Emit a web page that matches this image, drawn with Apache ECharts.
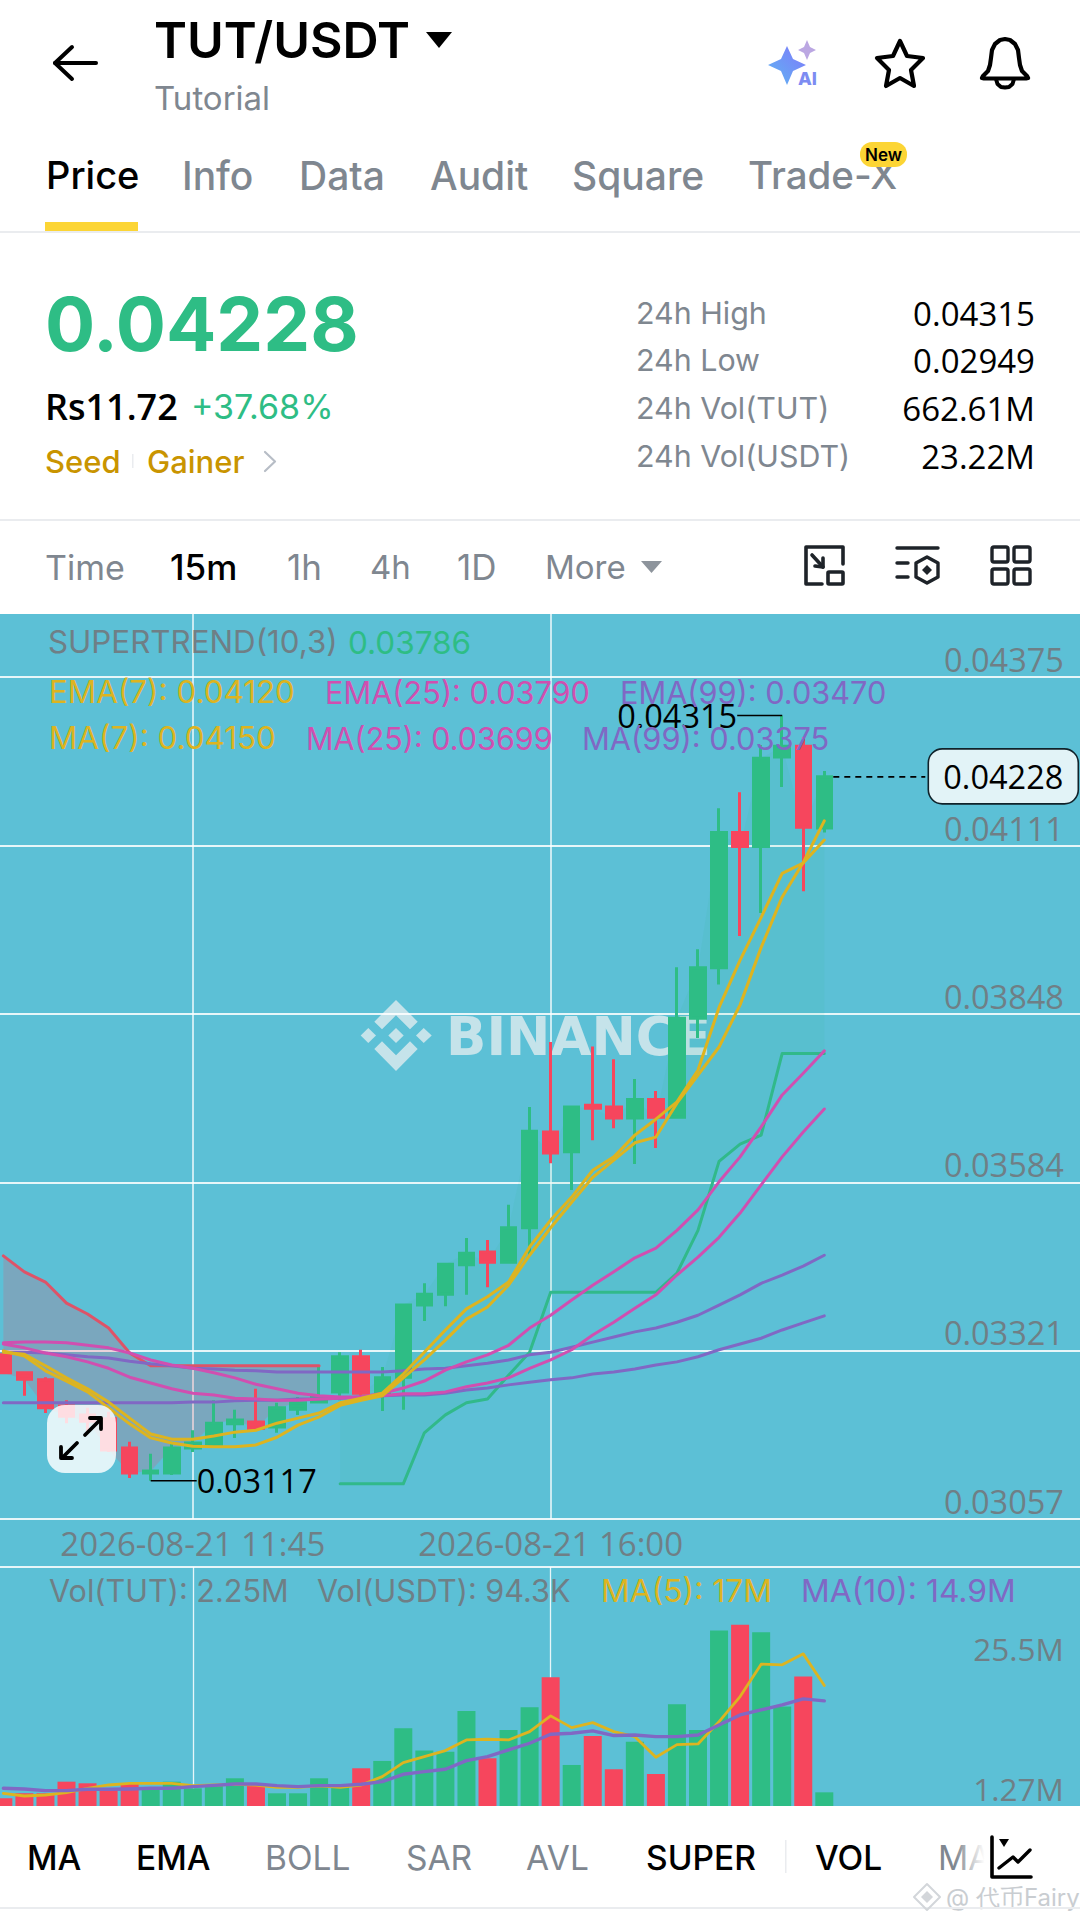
<!DOCTYPE html>
<html><head><meta charset="utf-8">
<style>html,body{margin:0;padding:0;background:#fff}#c{width:1080px;height:1922px}</style>
<script src="https://cdn.jsdelivr.net/npm/echarts@6/dist/echarts.min.js"></script>
</head><body><div id="c"></div>
<script>
// ---------- data ----------
const categories = ['2026-08-21 09:15','2026-08-21 09:30','2026-08-21 09:45','2026-08-21 10:00','2026-08-21 10:15','2026-08-21 10:30','2026-08-21 10:45','2026-08-21 11:00','2026-08-21 11:15','2026-08-21 11:30','2026-08-21 11:45','2026-08-21 12:00','2026-08-21 12:15','2026-08-21 12:30','2026-08-21 12:45','2026-08-21 13:00','2026-08-21 13:15','2026-08-21 13:30','2026-08-21 13:45','2026-08-21 14:00','2026-08-21 14:15','2026-08-21 14:30','2026-08-21 14:45','2026-08-21 15:00','2026-08-21 15:15','2026-08-21 15:30','2026-08-21 15:45','2026-08-21 16:00','2026-08-21 16:15','2026-08-21 16:30','2026-08-21 16:45','2026-08-21 17:00','2026-08-21 17:15','2026-08-21 17:30','2026-08-21 17:45','2026-08-21 18:00','2026-08-21 18:15','2026-08-21 18:30','2026-08-21 18:45','2026-08-21 19:00','2026-08-21 19:15','2026-08-21 19:30','2026-08-21 19:45','2026-08-21 20:00','2026-08-21 20:15','2026-08-21 20:30','2026-08-21 20:45','2026-08-21 21:00','2026-08-21 21:15','2026-08-21 21:30','2026-08-21 21:45','2026-08-21 22:00','2026-08-21 22:15','2026-08-21 22:30'];
const timeTicks = ['2026-08-21 11:45','2026-08-21 16:00'];
const priceTicks = [0.03057,0.03321,0.03584,0.03848,0.04111,0.04375];
const volTicks = [1.27,25.5];
// open, close, low, high
const candles = [
[.03314,.03286,.03284,.03322],[.03286,.03276,.03250,.03286],[.03275,.03231,.03223,.03279],[.03234,.03218,.03207,.03243],
[.0322,.0321,.03192,.03231],[.03214,.03165,.03162,.03225],[.03168,.03129,.03121,.03178],[.03129,.03132,.03117,.03159],
[.03129,.03168,.03126,.03176],[.03168,.03176,.03162,.03196],[.03171,.03207,.0317,.03243],[.03206,.03212,.03184,.03228],
[.03209,.03199,.03196,.03261],[.03201,.03231,.03192,.03239],[.03229,.03239,.0322,.03248],[.0324,.03248,.03239,.03298],
[.03256,.03311,.03243,.03318],[.03311,.03254,.03248,.03322],[.03254,.03278,.03226,.03295],[.03279,.03392,.03228,.03392],
[.03392,.03409,.03367,.03426],[.03409,.03456,.0339,.03458],[.03455,.03473,.03408,.03497],[.03475,.03459,.0342,.03494],
[.03459,.03513,.03459,.03549],[.03513,.03664,.03469,.03702],[.03663,.0363,.03614,.03804],[.03632,.03702,.03572,.03702],
[.03705,.037,.0365,.03797],[.03702,.03685,.03669,.03777],[.03685,.03714,.03613,.03746],[.03714,.03686,.03638,.03727],
[.03686,.03841,.03686,.03921],[.03841,.0392,.0381,.03949],[.0392,.04132,.03894,.0417],[.04132,.0411,.0397,.04195],
[.0411,.04248,.04006,.04269],[.0425,.04267,.04203,.04315],[.04267,.0414,.0404,.04281],[.04139,.04219,.04132,.04228]];
const ema7 = [.03318,.03315,.03297,.03278,.03261,.0324,.03215,.0319,.03182,.03182,.03187,.03193,.03196,.03207,.03215,.03223,.03239,.03246,.03254,.03284,.03318,.03353,.03386,.03405,.03428,.03483,.03525,.03561,.03603,.03624,.03658,.03683,.0371,.0376,.03858,.03932,.03999,.04068,.04084,.0412];
const ma7 = [.0332,.03312,.03289,.03273,.03256,.03231,.03206,.03184,.03176,.03171,.0317,.0317,.03173,.03185,.03204,.03217,.03235,.03243,.0325,.03278,.03306,.03337,.0337,.03389,.03423,.0347,.03513,.03553,.03592,.03619,.03646,.03655,.03708,.03752,.03796,.03862,.03952,.04031,.04085,.0415];
const ema25 = [.03331,.03325,.03317,.03311,.03303,.03293,.03279,.0327,.03261,.03254,.03251,.03246,.03245,.03243,.03243,.03245,.03246,.03248,.03254,.03262,.03273,.0329,.03303,.03314,.03329,.03356,.03376,.034,.03423,.03444,.03466,.03481,.03509,.03541,.03585,.03624,.03671,.03721,.03755,.0379];
const ma25 = [.03333,.03334,.03334,.03333,.03329,.03325,.03317,.03306,.03298,.03293,.03286,.03278,.03268,.03261,.03254,.0325,.03248,.03248,.0325,.03253,.03253,.03256,.03264,.0327,.03278,.03293,.03306,.03322,.03345,.03365,.03387,.03408,.03439,.03467,.03498,.03536,.0358,.03624,.03663,.03699];
const ema99 = [.03318,.03318,.03317,.03314,.03311,.03309,.03304,.033,.03297,.03293,.03292,.0329,.03289,.03287,.03287,.03287,.03287,.03287,.03287,.03289,.03292,.03293,.03297,.03301,.03306,.03314,.03318,.03326,.03334,.03342,.0335,.03356,.03365,.03376,.03392,.03408,.03426,.03439,.03453,.0347];
const ma99 = [.03239,.03239,.03239,.03239,.03239,.03239,.03239,.03239,.03239,.0324,.0324,.03242,.03243,.03243,.03245,.03245,.03246,.03248,.0325,.03251,.03251,.03254,.03259,.03262,.03267,.03271,.03275,.03278,.03284,.03287,.03292,.03298,.03303,.03311,.03322,.03331,.0334,.03353,.03364,.03375];
const superDown = [.03469,.03444,.03428,.03395,.03378,.03356,.03317,.03297,.03297,.03297,.03297,.03297,.03297,.03297,.03297,.03297,null,null,null,null,null,null,null,null,null,null,null,null,null,null,null,null,null,null,null,null,null,null,null,null];
const superUp = [null,null,null,null,null,null,null,null,null,null,null,null,null,null,null,null,.03112,.03112,.03112,.03112,.03192,.0322,.03239,.03245,.03282,.03318,.03412,.03412,.03412,.03412,.03412,.03412,.03442,.03509,.03617,.03644,.03658,.03786,.03786,.03786];
const volumes = [1.09,1.8,1.8,3.45,3.22,2.51,3.22,2.51,3.45,2.51,2.98,3.93,3.22,1.8,1.8,3.93,2.98,5.35,6.39,11.03,7.86,7.71,13.49,6.77,10.79,14.01,18.27,5.82,9.94,5.21,9.13,4.54,14.44,10.79,24.9,25.7,24.66,14.1,18.36,1.94];
const volMa5 = [1.8,1.42,1.56,1.89,2.51,2.98,3.22,3.22,3.22,2.89,2.98,3.08,2.98,2.65,2.65,2.84,2.65,2.98,4.17,6.15,7,7.86,9.37,9.47,9.37,10.55,12.78,11.12,11.83,10.55,9.84,6.91,8.71,8.8,11.97,15.52,20.12,20.02,21.58,17.09];
const volMa10 = [2.51,2.41,2.18,2.18,2.37,2.37,2.41,2.51,2.51,2.75,2.93,3.12,3.12,2.89,2.75,2.89,2.89,3.08,3.45,4.5,4.87,5.21,6.44,7,7.95,8.9,10.18,10.32,10.65,9.99,10.08,9.84,9.84,10.08,11.5,12.92,13.63,14.34,15.19,14.91];
const highMark = .04315, lowMark = .03117, lastText = '0.04228';

// ---------- style ----------
const F = 'Inter', NF = '"Open Sans"';
const GREEN='#2EBD85', RED='#F6465D', YEL='#DDB420', MAG='#D04FB0', PUR='#8068C4', AXT='#6F7F86', WL='rgba(255,255,255,0.85)';
const pad = a => [null].concat(a);
const closes = candles.map(c=>c[1]);
const T=(text,x,y,size,fill,weight,align,z,fam)=>({type:'text',z:z==null?30:z,style:{text,x,y,fill,font:`${weight||400} ${size}px ${fam||F}`,textAlign:align||'left',textVerticalAlign:'middle'}});
const L=(pts,stroke,lw,extra)=>Object.assign({type:'polyline',z:31,shape:{points:pts},style:{stroke,lineWidth:lw,fill:null,lineCap:'round',lineJoin:'round'}},extra||{});
const G=(pts,fill,stroke,lw,z)=>({type:'polygon',z:z==null?31:z,shape:{points:pts},style:{fill,stroke:stroke||null,lineWidth:lw||0,lineJoin:'round'}});
const R=(x,y,w,h,fill,r,z,stroke,lw)=>({type:'rect',z:z==null?30:z,shape:{x,y,width:w,height:h,r:r||0},style:{fill,stroke:stroke||null,lineWidth:lw||0}});
const DK='#1E2329', GT='#7F8790';
const graphics=[
 // panel
 R(0,614,1080,1192,'#5CC0D6',0,-5),
 // watermark
 G([[396,1028],[403.7,1035.5],[396,1043],[388.3,1035.5]],'#C5E3EA',null,0,0),
 G([[360.7,1035.5],[368.3,1028],[376,1035.5],[368.3,1043]],'#C5E3EA',null,0,0),
 G([[416,1035.5],[423.7,1028],[431.7,1035.5],[423.7,1043]],'#C5E3EA',null,0,0),
 G([[396,1000],[374.3,1021.7],[382,1029.3],[396,1015.3],[410,1029.3],[417.7,1021.7]],'#C5E3EA',null,0,0),
 G([[396,1071],[374.3,1049],[382,1041.3],[396,1055.3],[410,1041.3],[417.7,1049]],'#C5E3EA',null,0,0),
 T('BINANCE',446,1036,53,'#C5E3EA',700,'left',0,'DejaVu Sans'),
 // header
 L([[55,63],[96,63]],'#000',4),L([[72,47],[55,63],[72,79]],'#000',4),
 T('TUT/USDT',154,40,50,'#000',600),
 G([[426,32],[452,32],[439,48]],'#000'),
 T('Tutorial',154,98,33,GT,400),
 G([[787,46],[793,59],[806,65],[793,71],[787,85],[781,71],[768,65],[781,59]],{type:'linear',x:0,y:1,x2:1,y2:0,colorStops:[{offset:0,color:'#5FB6F2'},{offset:1,color:'#7F78FB'}]}),
 G([[807,40],[810,47],[816,50],[810,53],[807,60],[804,53],[798,50],[804,47]],'#BBA7E2'),
 T('AI',798,78,18,'#7D8CF2',800),
 G([[900,41],[907,56],[923,58],[911,70],[914,86],[900,78],[886,86],[889,70],[877,58],[893,56]],'none','#000',4.2),
 G([[983,76],[988,71],[990,65],[991,58],[992,50],[995,44],[1000,40],[1005,39],[1010,40],[1015,44],[1018,50],[1019,58],[1020,65],[1022,71],[1027,76],[1028,78],[1026,78.5],[984,78.5],[982,78]],'none','#000',4.2),
 L([[996,79],[997.5,84],[1001,87],[1005,87.5],[1009,87],[1012.5,84],[1014,79]],'#000',4),
 // tabs
 T('Price',46,175,38,'#000',500),T('Info',182,175,39,GT,500),T('Data',299,175,39,GT,500),T('Audit',430,175,39,GT,500),T('Square',572,175,39,GT,500),T('Trade-X',748,175,38.5,GT,500),
 R(860,142,47,25,'#FCD535',12,31),T('New',883.5,155,17,'#000',600,'center',32),
 R(45,222,93,9,'#FCD535',0),R(0,231,1080,2,'#EAECEF',0),
 // price block
 T('0.04228',45,324,74.5,GREEN,700),
 T('Rs11.72',45,406,36,'#000',600,'left',30,NF),T('+37.68%',191,406,34,GREEN,400),
 T('Seed',45,461,31,'#C99400',500),R(132,454,1.5,14,'#EAECEF',0),T('Gainer',147,461,31,'#C99400',500),
 L([[265,452],[275,461.5],[265,471]],'#B7BDC6',2.2),
 T('24h High',636,313,30.4,GT),T('24h Low',636,360,30.4,GT),T('24h Vol(TUT)',636,408,30.4,GT),T('24h Vol(USDT)',636,456,30.4,GT),
 T('0.04315',1035,313,33,'#000',500,'right',30,NF),T('0.02949',1035,360,33,'#000',500,'right',30,NF),T('662.61M',1035,408,33,'#000',500,'right',30,NF),T('23.22M',1035,456,33,'#000',500,'right',30,NF),
 R(0,519,1080,2,'#EAECEF',0),
 // time row
 T('Time',45,567,34,GT),T('15m',170,567,35,'#000',500),T('1h',287,567,35,GT),T('4h',370,567,33,GT),T('1D',457,567,35,GT),T('More',545,567,33,GT),
 G([[641,561],[662,561],[651.5,573]],'#8D949C'),
 L([[822,584],[806,584],[806,547],[843,547],[843,564]],DK,3.6),R(828,572,15,12,'none',1,31,DK,3.6),
 L([[812,555],[823,567]],DK,3.6),L([[815,566],[823,567],[823,558]],DK,3.6),
 L([[897,548],[938,548]],DK,3.4),L([[897,563],[908,563]],DK,3.4),L([[897,577],[908,577]],DK,3.4),
 G([[927,557],[938,563],[938,577],[927,583],[916,577],[916,563]],'none',DK,3.4),G([[927,565],[932,570],[927,575],[922,570]],DK),
 R(992,547,16,15,'none',2,31,DK,3.4),R(1014,547,16,15,'none',2,31,DK,3.4),R(992,569,16,15,'none',2,31,DK,3.4),R(1014,569,16,15,'none',2,31,DK,3.4),
 // legends
 T('SUPERTREND(10,3)',48,642,31.3,AXT),T('0.03786',348,642,31.5,GREEN),
 T('EMA(7): 0.04120',49,692,31.4,YEL),T('EMA(25): 0.03790',325,692,30.7,MAG),T('EMA(99): 0.03470',620,692,30.7,PUR),
 T('MA(7): 0.04150',49,738,31.4,YEL),T('MA(25): 0.03699',306,738,30.5,MAG),T('MA(99): 0.03375',582,738,30.8,PUR),
 T('Vol(TUT): 2.25M',49,1590,30.6,AXT),T('Vol(USDT): 94.3K',317,1590,30.6,AXT),T('MA(5): 17M',601,1590,31.8,YEL),T('MA(10): 14.9M',801,1590,31.8,PUR),
 // expand button
 R(47,1405,69,68,'rgba(255,255,255,0.82)',18,20),
 L([[85,1435],[100,1420]],'#000',3.8),L([[90,1418],[101,1418],[101,1429]],'#000',3.8),
 L([[77,1443],[62,1458]],'#000',3.8),L([[61,1447],[61,1458],[72,1458]],'#000',3.8),
 // footer
 R(0,1806,1080,116,'#fff',0,1),
 T('MA',27,1858,33.5,'#000',500),T('EMA',136,1858,33.5,'#000',500),T('BOLL',265,1858,33.5,GT),T('SAR',406,1858,33.5,GT),T('AVL',526,1858,33.5,GT),T('SUPER',646,1858,33.5,'#000',500),
 R(785,1840,1.5,33,'#EAECEF',0),T('VOL',815,1858,33.5,'#000',500),T('MA',938,1858,33.5,GT),
 {type:'rect',z:31,shape:{x:955,y:1835,width:37,height:46},style:{fill:{type:'linear',x:0,y:0,x2:1,y2:0,colorStops:[{offset:0,color:'rgba(255,255,255,0)'},{offset:0.8,color:'#fff'},{offset:1,color:'#fff'}]}}},
 L([[992,1837],[992,1877],[1031,1877]],'#000',3.6),L([[999,1868],[1013,1857],[1018,1862],[1030,1850]],'#000',3.4),G([[999,1839],[1009,1839],[1004,1847]],'#000'),
 // corner mark
 G([[927,1884],[940,1897],[927,1910],[914,1897]],'none','#D3D6DA',2),G([[927,1891],[933,1897],[927,1903],[921,1897]],'#D3D6DA'),
 T('@ 代币Fairy',946,1897,24,'#C9CDD1',400),
 R(0,1907,1080,2,'#EAECEF',0),
];

const line=(name,data,color,w,xi,yi)=>({name,type:'line',data:pad(data),xAxisIndex:xi||0,yAxisIndex:yi||0,showSymbol:false,symbol:'none',connectNulls:false,lineStyle:{color,width:w,cap:'round',join:'round'},silent:true,z:3});
const stackLine=(name,stack,data,area)=>({name,type:'line',stack,stackStrategy:'all',data:pad(data),showSymbol:false,symbol:'none',silent:true,z:1,lineStyle:{opacity:0,width:0},areaStyle:area?{color:area,opacity:1}:undefined});

// markers drawn through the price scale
const markers=[[38,highMark],[8,lowMark],[40,closes[closes.length-1]]];
function renderMarker(p,api){
  const c=api.coord([api.value(0),api.value(1)]);const x=c[0],y=c[1];
  const txt=(t,tx,ty,al)=>({type:'text',style:{text:t,x:tx,y:ty,fill:'#000',font:`400 32.5px ${NF}`,textAlign:al,textVerticalAlign:'middle'}});
  const seg=(a,b,dash,w)=>({type:'line',shape:{x1:a,y1:y,x2:b,y2:y},style:{stroke:'#000',lineWidth:w||1.6,lineDash:dash||null}});
  if(p.dataIndex===0) return {type:'group',children:[seg(x-45,x),txt(highMark.toFixed(5),x-45,y,'right')]};
  if(p.dataIndex===1) return {type:'group',children:[seg(x,x+46),txt(lowMark.toFixed(5),x+46,y,'left')]};
  return {type:'group',children:[seg(x+9,x+101,[6,5],1.8),
    {type:'rect',shape:{x:x+104,y:y-28,width:150,height:55,r:14},style:{fill:'#E2F3F7',stroke:'#10222A',lineWidth:1.6}},
    txt(lastText,x+179,y,'center')]};
}

const chart=echarts.init(document.getElementById('c'),null,{renderer:'svg',width:1080,height:1922});
chart.setOption({
 animation:false,backgroundColor:'#fff',
 graphic:{elements:graphics},
 grid:[{left:-17.7,top:614,width:1115.65,height:905,containLabel:false,outerBoundsMode:'none'},{left:-17.7,top:1567,width:1115.65,height:239,containLabel:false,outerBoundsMode:'none'}],
 xAxis:[
  {type:'category',gridIndex:0,data:categories,boundaryGap:false,axisLine:{show:false},axisTick:{show:false},
   axisLabel:{interval:(i,v)=>timeTicks.includes(v),color:AXT,fontFamily:NF,fontSize:33,margin:8,hideOverlap:false},
   splitLine:{show:true,interval:(i,v)=>timeTicks.includes(v),lineStyle:{color:WL,width:1.6}}},
  {type:'category',gridIndex:1,data:categories,boundaryGap:false,position:'top',axisLine:{show:true,onZero:false,lineStyle:{color:WL,width:2}},axisTick:{show:false},axisLabel:{show:false},
   splitLine:{show:true,interval:(i,v)=>timeTicks.includes(v),lineStyle:{color:WL,width:1.3}}}
 ],
 yAxis:[
  {type:'value',gridIndex:0,position:'right',min:0.03057,max:0.04474,scale:true,axisLine:{show:false},
   axisTick:{show:false,customValues:priceTicks},
   axisLabel:{inside:true,margin:34,customValues:priceTicks,formatter:v=>v.toFixed(5),color:AXT,fontFamily:NF,fontSize:32.5,verticalAlign:'bottom',lineHeight:35},
   splitLine:{show:true,lineStyle:{color:WL,width:2}}},
  {type:'value',gridIndex:1,position:'right',min:0,max:33.9,axisLine:{show:false},
   axisTick:{show:false,customValues:volTicks},
   axisLabel:{inside:true,margin:34,customValues:volTicks,verticalAlign:'middle',
    formatter:v=>v<5?`{low|${v}M}`:`{high|${v}M}`,
    rich:{low:{color:AXT,fontFamily:NF,fontSize:31.5,padding:[0,0,18,0]},high:{color:AXT,fontFamily:NF,fontSize:31.5,padding:[44,0,0,0]}}},
   splitLine:{show:false}}
 ],
 series:[
  stackLine('fillUpBase','up',superUp),
  stackLine('fillUp','up',closes.map((c,i)=>superUp[i]==null?null:c-superUp[i]),'rgba(46,189,133,0.07)'),
  stackLine('fillDownBase','down',closes.map((c,i)=>superDown[i]==null?null:c)),
  stackLine('fillDown','down',closes.map((c,i)=>superDown[i]==null?null:superDown[i]-c),'rgba(246,70,93,0.2)'),
  {name:'TUT/USDT',type:'candlestick',data:[['-','-','-','-']].concat(candles),barWidth:15,silent:true,z:2,
   itemStyle:{color:GREEN,color0:RED,borderColor:GREEN,borderColor0:RED,borderWidth:3}},
  line('SUPERTREND down',superDown,'#DE5368',3),
  line('SUPERTREND up',superUp,'#31B98A',3),
  line('MA(99)',ma99,PUR,3),line('EMA(99)',ema99,PUR,3),
  line('MA(25)',ma25,MAG,3),line('EMA(25)',ema25,MAG,3),
  line('MA(7)',ma7,YEL,3),line('EMA(7)',ema7,YEL,3),
  {name:'Volume',type:'bar',xAxisIndex:1,yAxisIndex:1,barWidth:18,silent:true,z:2,
   data:[null].concat(volumes.map((v,i)=>({value:v,itemStyle:{color:candles[i][1]>=candles[i][0]?GREEN:RED}})))},
  line('Vol MA(5)',volMa5,YEL,2.8,1,1),line('Vol MA(10)',volMa10,PUR,3.4,1,1),
  {name:'markers',type:'custom',data:markers,renderItem:renderMarker,clip:false,silent:true,z:6,encode:{x:0,y:1}}
 ]
});
</script></body></html>
